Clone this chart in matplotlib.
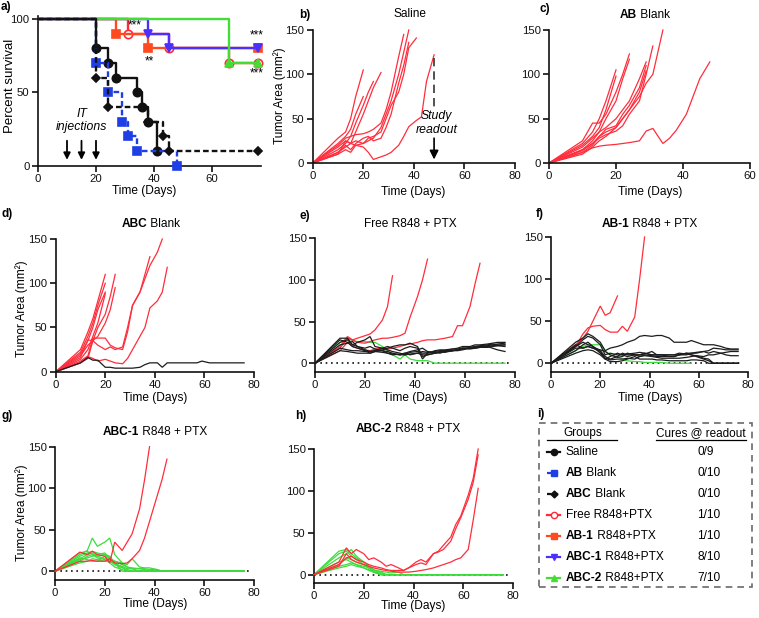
import matplotlib
matplotlib.use('Agg')
import matplotlib.pyplot as plt
from matplotlib.lines import Line2D
from matplotlib.patches import Rectangle
from matplotlib.text import Annotation

plt.rcParams['font.family'] = ['Liberation Sans', 'DejaVu Sans']

# ---------------- data ----------------
DAYS = [0, 10, 13, 15, 17, 20, 22, 24, 27, 29, 31, 34, 36, 38, 41, 43, 45, 48, 50,
        52, 55, 57, 59, 62, 64, 66, 69, 71, 73, 76]

# survival (panel a): event times and percent survival
SAL_T = [0, 20, 24, 27, 34, 36, 38, 41]
SAL_S = [100, 80, 70, 60, 50, 40, 30, 10]
ABB_T = [0, 20, 24, 29, 31, 34, 48]
ABB_S = [100, 70, 50, 30, 20, 10, 0]
ABCB_T = [0, 20, 24, 38, 43, 45, 76]
ABCB_S = [100, 60, 40, 30, 20, 10, 10]
FREE_T = [0, 31, 45, 66, 76]
FREE_S = [100, 90, 80, 70, 70]
AB1_T = [0, 27, 38, 76]
AB1_S = [100, 90, 80, 80]
ABC1_T = [0, 38, 45, 76]
ABC1_S = [100, 90, 80, 80]
ABC2_T = [0, 66, 76]
ABC2_S = [100, 70, 70]
INJ_DAYS = [10, 15, 20]

# tumour areas (mm2), one list per mouse, sampled on DAYS
B_RED = [
    [0, 28, 35, 50, 75, 105],
    [0, 22, 30, 38, 55, 75],
    [0, 20, 28, 30, 45, 65, 80, 92],
    [0, 18, 25, 22, 35, 55, 70, 85, 102],
    [0, 15, 22, 30, 32, 33, 35, 38, 45, 60, 80, 120, 145],
    [0, 12, 18, 22, 25, 22, 25, 28, 40, 55, 70, 100, 125, 150],
    [0, 10, 15, 12, 20, 22, 28, 30, 35, 50, 65, 80, 100, 130, 141],
    [0, 10, 25, 22, 20, 18, 12, 4, 7, 9, 12, 20, 30, 41, 48, 52, 92, 122],
    [0, 12, 20, 15, 22, 28, 30, 25, 28, 40, 55, 90, 110, 136],
]
C_RED = [
    [0, 22, 35, 50, 70, 105],
    [0, 20, 30, 40, 60, 98],
    [0, 25, 45, 45, 55, 80, 100, 123],
    [0, 18, 28, 35, 50, 70, 95, 117],
    [0, 15, 25, 35, 40, 50, 60, 70, 95, 114],
    [0, 12, 20, 30, 35, 40, 50, 60, 80, 104],
    [0, 15, 22, 28, 32, 36, 42, 55, 70, 100, 132],
    [0, 10, 18, 25, 30, 40, 50, 60, 75, 90, 100, 150],
    [0, 12, 17, 19, 20, 21, 22, 23, 25, 36, 39, 22, 28, 37, 55, 75, 95, 114],
    [0, 14, 22, 30, 38, 42, 55, 65, 85, 110],
]
D_RED = [
    [0, 25, 45, 60, 80, 110],
    [0, 22, 40, 55, 75, 100],
    [0, 20, 35, 50, 70, 90],
    [0, 14, 25, 40, 55, 88],
    [0, 18, 30, 35, 50, 65, 85, 110],
    [0, 16, 36, 35, 40, 55, 70, 95],
    [0, 12, 18, 38, 38, 38, 30, 27, 25, 45, 75, 90, 110, 130],
    [0, 10, 15, 35, 30, 25, 28, 25, 28, 50, 75, 90, 105, 120, 135, 150],
    [0, 10, 17, 15, 12, 14, 12, 10, 9, 15, 25, 40, 50, 72, 80, 90, 118],
]
D_BLACK = [
    [0, 10, 16, 13, 13, 5, 5, 4, 4, 4, 4, 5, 8, 10, 10, 5, 10, 10, 10, 10,
     10, 10, 12, 10, 10, 10, 10, 10, 10, 10],
]
E_RED = [
    [0, 20, 32, 28, 30, 33, 35, 40, 52, 68, 105],
    [0, 18, 30, 28, 25, 24, 26, 28, 30, 30, 31, 33, 36, 55, 80, 100, 125],
    [0, 15, 25, 20, 18, 16, 15, 17, 18, 17, 18, 20, 22, 23, 25, 27, 28, 28, 29, 30,
     32, 45, 45, 68, 95, 120],
]
E_BLACK = [
    [0, 30, 30, 22, 25, 28, 32, 20, 18, 20, 18, 15, 18, 20, 18, 5, 12, 14, 15, 15,
     17, 18, 20, 20, 22, 22, 23, 24, 25, 25],
    [0, 28, 25, 20, 18, 15, 12, 14, 15, 14, 12, 10, 12, 14, 16, 18, 14, 13, 12, 14,
     15, 16, 17, 19, 20, 21, 22, 23, 22, 22],
    [0, 22, 24, 26, 20, 18, 20, 17, 15, 12, 10, 11, 12, 10, 12, 10, 10, 12, 14, 15,
     15, 16, 18, 18, 19, 20, 20, 21, 21, 20],
    [0, 18, 16, 15, 15, 14, 14, 15, 16, 18, 20, 22, 22, 24, 20, 8, 10, 12, 14, 13,
     15, 16, 18, 17, 18, 19, 20, 18, 16, 14],
    [0, 15, 14, 13, 12, 12, 12, 14, 13, 12, 11, 10, 10, 11, 12, 14, 13, 12, 13, 14,
     15, 15, 16, 18, 18, 19, 19, 20, 21, 22],
    [0, 25, 28, 22, 20, 16, 14, 15, 18, 16, 14, 12, 10, 13, 14, 12, 12, 15, 16, 16,
     17, 17, 18, 18, 20, 20, 21, 22, 23, 24],
]
E_GREEN = [
    [0, 25, 30, 27, 26, 26, 25, 25, 20, 15, 10, 5, 10, 5, 3, 3, 3, 0],
]
E_CURE_END = 76
F_RED = [
    [0, 22, 30, 38, 50, 68, 57, 60, 80],
    [0, 20, 35, 42, 44, 45, 40, 37, 37, 44, 38, 55, 100, 150],
]
F_BLACK = [
    [0, 25, 30, 35, 32, 25, 15, 18, 20, 22, 25, 28, 32, 33, 32, 33, 33, 30, 25, 25,
     25, 27, 25, 22, 22, 22, 20, 18, 17, 17],
    [0, 20, 28, 32, 30, 22, 10, 12, 10, 10, 11, 12, 13, 12, 10, 10, 10, 10, 10, 10,
     10, 12, 12, 14, 15, 18, 17, 16, 16, 16],
    [0, 15, 22, 25, 20, 15, 8, 5, 8, 12, 10, 10, 10, 11, 14, 10, 10, 8, 8, 10,
     12, 12, 13, 14, 12, 14, 12, 10, 9, 9],
    [0, 18, 18, 20, 18, 14, 6, 4, 5, 5, 6, 5, 8, 10, 9, 8, 8, 8, 8, 10,
     12, 10, 8, 5, 3, 0, 0, 0, 0, 0],
    [0, 12, 15, 16, 15, 10, 5, 8, 12, 10, 8, 10, 10, 12, 10, 10, 10, 10, 10, 12,
     11, 10, 9, 8, 10, 10, 12, 13, 14, 14],
    [0, 20, 25, 22, 20, 12, 5, 2, 2, 3, 5, 8, 5, 5, 5, 4, 4, 3, 3, 3,
     3, 4, 4, 3, 0, 0, 0, 0, 0, 0],
    [0, 22, 18, 20, 18, 16, 14, 10, 7, 8, 12, 10, 8, 9, 8, 7, 6, 6, 6, 6,
     7, 8, 9, 6, 5, 0, 0, 0, 0, 0],
]
F_GREEN = [
    [0, 15, 20, 22, 22, 22, 15, 10, 8, 5, 3, 2, 2, 1, 1, 1, 1, 0],
]
F_CURE_END = 57
G_RED = [
    [0, 23, 20, 24, 20, 18, 10, 35, 25, 35, 45, 75, 110, 150],
    [0, 12, 12, 13, 12, 12, 15, 10, 9, 10, 15, 25, 40, 60, 90, 110, 135],
]
G_GREEN = [
    [0, 20, 25, 40, 30, 35, 40, 20, 10, 8, 15, 5, 4, 4, 2, 0],
    [0, 18, 22, 24, 22, 20, 15, 12, 8, 5, 3, 0],
    [0, 15, 20, 22, 18, 20, 18, 10, 5, 0],
    [0, 12, 18, 20, 16, 14, 10, 5, 2, 0],
    [0, 10, 12, 15, 14, 12, 12, 8, 4, 2, 0],
    [0, 14, 16, 18, 20, 22, 16, 12, 10, 5, 4, 3, 2, 0],
    [0, 22, 24, 20, 18, 15, 12, 10, 0],
    [0, 16, 14, 12, 12, 18, 14, 8, 6, 3, 3, 3, 3, 2, 2, 0],
]
G_CURE_END = 76
H_RED = [
    [0, 15, 32, 25, 30, 25, 18, 20, 15, 10, 12, 8, 5, 8, 15, 18, 15, 25, 28, 35,
     45, 60, 70, 95, 115, 150],
    [0, 12, 20, 22, 18, 15, 12, 10, 8, 6, 5, 5, 5, 8, 12, 14, 12, 25, 27, 30,
     40, 55, 68, 90, 110, 143],
    [0, 10, 25, 18, 15, 12, 10, 8, 6, 5, 4, 3, 3, 3, 4, 5, 6, 8, 10, 12,
     15, 18, 20, 30, 65, 103],
]
H_GREEN = [
    [0, 28, 30, 25, 20, 15, 10, 5, 0],
    [0, 25, 28, 22, 18, 12, 8, 3, 0],
    [0, 20, 25, 30, 22, 15, 10, 5, 2, 0],
    [0, 15, 18, 15, 12, 8, 5, 3, 0],
    [0, 10, 12, 14, 12, 10, 8, 5, 4, 3, 2, 3, 0],
    [0, 8, 10, 12, 10, 8, 6, 3, 0],
    [0, 12, 20, 18, 15, 12, 10, 6, 3, 0],
]
H_CURE_END = 76

LEG_GROUPS = [("Saline", ""), ("AB", " Blank"), ("ABC", " Blank"),
              ("", "Free R848+PTX"), ("AB-1", " R848+PTX"),
              ("ABC-1", " R848+PTX"), ("ABC-2", " R848+PTX")]
LEG_CURES = ["0/9", "0/10", "0/10", "1/10", "1/10", "8/10", "7/10"]

# ---------------- styling ----------------
RED = '#ff2d3c'
GREEN = '#3ddc3d'
BLACK = '#1c1c1c'
C_SAL = '#111111'
C_ABB = '#1f3fe6'
C_ABCB = '#111111'
C_FREE = '#ff2a3a'
C_AB1 = '#ff4a20'
C_ABC1 = '#4a30ff'
C_ABC2 = '#44dd33'

W, H = 759, 618
fig = plt.figure(figsize=(W / 100, H / 100), dpi=100)


def fx(x):
    return x / W


def fy(y):
    return 1 - y / H


def px_ax(x0, x1, yt, yb):
    return fig.add_axes([x0 / W, 1 - yb / H, (x1 - x0) / W, (yb - yt) / H])


def style(ax, xlim, ylim, xticks, yticks):
    for s in ['top', 'right']:
        ax.spines[s].set_visible(False)
    for s in ['left', 'bottom']:
        ax.spines[s].set_linewidth(1.2)
        ax.spines[s].set_color('#111111')
    ax.set_xlim(xlim)
    ax.set_ylim(ylim)
    ax.set_xticks(xticks)
    ax.set_yticks(yticks)
    ax.tick_params(direction='out', length=4, width=1.2, labelsize=8.2, pad=2,
                   colors='#111111')
    ax.patch.set_alpha(0)


def rich(x, y, parts, size=8.5):
    prev = None
    for txt, bold in parts:
        if txt == "":
            continue
        w = 'bold' if bold else 'normal'
        if prev is None:
            prev = fig.text(fx(x), fy(y), txt, fontsize=size, fontweight=w,
                            va='center', ha='left')
        else:
            a = Annotation(txt, xy=(1, 0.5), xycoords=prev, fontsize=size,
                           fontweight=w, va='center', ha='left')
            fig.add_artist(a)
            prev = a


def spaghetti(ax, series, color, lw=0.9, cure_end=None, z=2):
    for v in series:
        x = list(DAYS[:len(v)])
        y = list(v)
        if cure_end is not None:
            x = x + [cure_end]
            y = y + [0]
        ax.plot(x, y, color=color, lw=lw, clip_on=False, zorder=z,
                solid_joinstyle='miter')


def zero_line(ax):
    ax.plot([0, 78], [0, 0], color='#111111', lw=1.2, ls=(0, (1, 2.2)),
            zorder=1, clip_on=False)


# ---------------- panel a ----------------
axa = px_ax(38, 261.3, 16.1, 165.7)
style(axa, (0, 77), (0, 102), [0, 20, 40, 60], [0, 50, 100])
surv = [
    (FREE_T, FREE_S, C_FREE, '-', 'o', 'white', 2),
    (AB1_T, AB1_S, C_AB1, '-', 's', C_AB1, 3),
    (ABC1_T, ABC1_S, C_ABC1, '-', 'v', C_ABC1, 4),
    (ABC2_T, ABC2_S, C_ABC2, '-', '^', C_ABC2, 5),
    (SAL_T, SAL_S, C_SAL, '-', 'o', C_SAL, 6),
    (ABB_T, ABB_S, C_ABB, (0, (2.4, 1.3)), 's', C_ABB, 7),
    (ABCB_T, ABCB_S, C_ABCB, (0, (2.4, 1.3)), 'D', C_ABCB, 8),
]
for t, s, c, ls, m, fc, z in surv:
    axa.step(t, s, where='post', color=c, lw=1.7, ls=ls, zorder=z, clip_on=False)
    axa.plot(t[1:], s[1:], ls='none', marker=m, color=c, mfc=fc, mec=c,
             ms=6 if m != 'D' else 4.5, mew=1.2, zorder=z, clip_on=False)
for d in INJ_DAYS:
    axa.annotate('', xy=(d, 4), xytext=(d, 17),
                 arrowprops=dict(arrowstyle='-|>', color='black', lw=1.3,
                                 mutation_scale=10, shrinkA=0, shrinkB=0))
axa.text(15, 31, 'IT\ninjections', style='italic', fontsize=8.8, ha='center',
         va='center', linespacing=1.15)
axa.text(33.5, 95.5, '***', fontsize=8.5, ha='center', va='center', clip_on=False)
axa.text(38.5, 71, '**', fontsize=8.5, ha='center', va='center', clip_on=False)
axa.text(75.5, 89, '***', fontsize=8.5, ha='center', va='center', clip_on=False)
axa.text(75.5, 63, '***', fontsize=8.5, ha='center', va='center', clip_on=False)

# ---------------- panel b ----------------
axb = px_ax(312.7, 515, 30, 163)
style(axb, (0, 80), (0, 150), [0, 20, 40, 60, 80], [0, 50, 100, 150])
spaghetti(axb, B_RED, RED)
axb.plot([48, 48], [118, 60], color='#333333', lw=1.2, ls=(0, (5, 3)))
axb.annotate('', xy=(48, 4), xytext=(48, 28),
             arrowprops=dict(arrowstyle='-|>', color='black', lw=1.2,
                             mutation_scale=13, shrinkA=0, shrinkB=0))
axb.text(49, 45, 'Study\nreadout', style='italic', fontsize=8.8, ha='center',
         va='center', linespacing=1.2)

# ---------------- panel c ----------------
axc = px_ax(549, 750, 30, 163)
style(axc, (0, 60), (0, 150), [0, 20, 40, 60], [0, 50, 100, 150])
spaghetti(axc, C_RED, RED)

# ---------------- panel d ----------------
axd = px_ax(55.7, 254, 239, 371.7)
style(axd, (0, 80), (0, 150), [0, 20, 40, 60, 80], [0, 50, 100, 150])
spaghetti(axd, D_RED, RED)
spaghetti(axd, D_BLACK, BLACK)

# ---------------- panel e ----------------
axe = px_ax(315, 515, 238.3, 371.5)
style(axe, (0, 80), (-10, 150), [0, 20, 40, 60, 80], [0, 50, 100, 150])
zero_line(axe)
spaghetti(axe, E_GREEN, GREEN, cure_end=E_CURE_END, z=2)
spaghetti(axe, E_RED, RED, z=3)
spaghetti(axe, E_BLACK, BLACK, z=4)

# ---------------- panel f ----------------
axf = px_ax(551, 748, 237, 371.7)
style(axf, (0, 80), (-10, 150), [0, 20, 40, 60, 80], [0, 50, 100, 150])
zero_line(axf)
spaghetti(axf, F_GREEN, GREEN, cure_end=F_CURE_END, z=2)
spaghetti(axf, F_RED, RED, z=3)
spaghetti(axf, F_BLACK, BLACK, z=4)

# ---------------- panel g ----------------
axg = px_ax(55, 254, 446.7, 579.5)
style(axg, (0, 80), (-10, 150), [0, 20, 40, 60, 80], [0, 50, 100, 150])
zero_line(axg)
spaghetti(axg, G_GREEN, GREEN, cure_end=G_CURE_END, z=2)
spaghetti(axg, G_RED, RED, z=3)

# ---------------- panel h ----------------
axh = px_ax(314, 513, 449, 583)
style(axh, (0, 80), (-10, 150), [0, 20, 40, 60, 80], [0, 50, 100, 150])
zero_line(axh)
spaghetti(axh, H_RED, RED, z=3)
spaghetti(axh, H_GREEN, GREEN, cure_end=H_CURE_END, z=2)

# ---------------- labels ----------------
LS = 8.6
for (x, y) in [(144, 191), (413, 192), (650, 192), (155, 398), (415, 398),
               (650, 398), (155, 604), (413, 606)]:
    fig.text(fx(x), fy(y), 'Time (Days)', fontsize=LS, ha='center', va='center')
fig.text(fx(10.5), fy(86), 'Percent survival', fontsize=9.5, rotation=90,
         ha='center', va='center')
for (x, y) in [(280, 96), (22, 309), (22, 513)]:
    fig.text(fx(x), fy(y), 'Tumor Area (mm²)', fontsize=LS, rotation=90,
             ha='center', va='center')

for lab, x, y in [('a)', 1, 7), ('b)', 299, 15), ('c)', 539, 9), ('d)', 1, 214),
                  ('e)', 299, 216), ('f)', 536, 214), ('g)', 1, 416),
                  ('h)', 295, 416), ('i)', 537, 414)]:
    fig.text(fx(x), fy(y), lab, fontsize=8.5, fontweight='bold', ha='left',
             va='center')

fig.text(fx(410), fy(14), 'Saline', fontsize=8.6, ha='center', va='center')
rich(620, 15, [('AB', True), (' Blank', False)], size=8.6)
rich(121.7, 224, [('ABC', True), (' Blank', False)], size=8.6)
fig.text(fx(410), fy(224), 'Free R848 + PTX', fontsize=8.6, ha='center', va='center')
rich(601.7, 224, [('AB-1', True), (' R848 + PTX', False)], size=8.6)
rich(103, 432, [('ABC-1', True), (' R848 + PTX', False)], size=8.6)
rich(356, 429, [('ABC-2', True), (' R848 + PTX', False)], size=8.6)

# ---------------- panel i (table legend) ----------------
fig.add_artist(Rectangle((fx(539), fy(587)), fx(752) - fx(539), fy(423) - fy(587),
                         transform=fig.transFigure, fill=False, edgecolor='#6a6a6a',
                         lw=1.2, ls=(0, (4, 3))))
fig.text(fx(563), fy(433), 'Groups', fontsize=8.5, ha='left', va='center')
fig.add_artist(Line2D([fx(547), fx(617)], [fy(440), fy(440)],
                      transform=fig.transFigure, color='black', lw=0.9))
fig.text(fx(656), fy(433), 'Cures @ readout', fontsize=8.5, ha='left', va='center')
fig.add_artist(Line2D([fx(656), fx(746)], [fy(440), fy(440)],
                      transform=fig.transFigure, color='black', lw=0.9))

LEG_STYLE = [(C_SAL, '-', 'o', C_SAL), (C_ABB, (0, (2, 1)), 's', C_ABB),
             (C_ABCB, (0, (2, 1)), 'D', C_ABCB), (C_FREE, '-', 'o', 'white'),
             (C_AB1, '-', 's', C_AB1), (C_ABC1, '-', 'v', C_ABC1),
             (C_ABC2, '-', '^', C_ABC2)]
ROW_Y = [452, 473, 494, 515, 536, 557, 578]
for (g_bold, g_norm), cure, (c, ls, m, fc), y in zip(LEG_GROUPS, LEG_CURES,
                                                     LEG_STYLE, ROW_Y):
    fig.add_artist(Line2D([fx(547), fx(560)], [fy(y), fy(y)],
                          transform=fig.transFigure, color=c, lw=1.6, ls=ls))
    fig.add_artist(Line2D([fx(553.5)], [fy(y)], transform=fig.transFigure,
                          color=c, marker=m, mfc=fc, mec=c,
                          ms=4.5 if m != 'D' else 3.5, mew=1.0, ls='none'))
    if g_bold == "Saline":
        rich(566, y, [(g_bold, False)], size=8.6)
    else:
        rich(566, y, [(g_bold, True), (g_norm, False)], size=8.6)
    fig.text(fx(697), fy(y), cure, fontsize=8.6, ha='left', va='center')

fig.savefig('out.png', dpi=100)
